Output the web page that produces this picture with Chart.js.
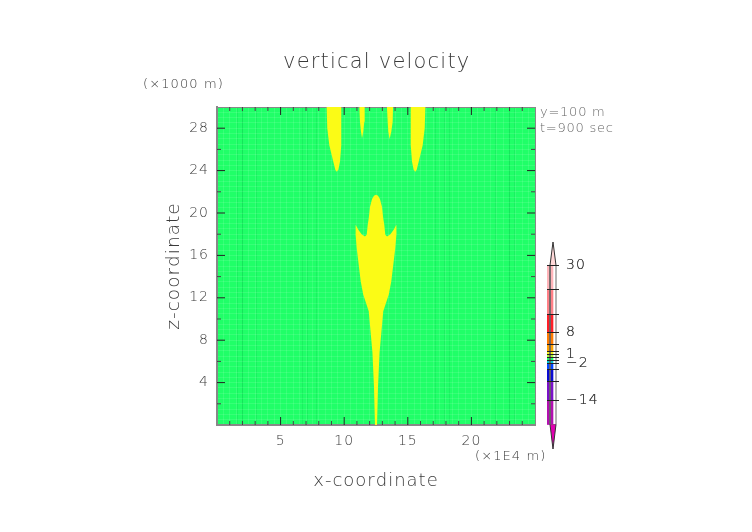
<!DOCTYPE html>
<html lang="en">
<head>
    <meta charset="UTF-8">
    <title>vertical velocity</title>
    <style>
        body { margin: 0; background: #ffffff; }
        #wrap { position: relative; width: 752px; height: 532px; overflow: hidden; font-family: 'DejaVu Sans', sans-serif; font-weight: 200; color: #3a3a3a; }
        #mainChart { position: absolute; left: 0; top: 0; }
        #barChart { position: absolute; left: 530px; top: 240px; }
        .note { position: absolute; white-space: nowrap; line-height: 1; }
        #title { left: 283px; top: 51px; font-size: 21px; letter-spacing: 1.2px; }
        #zUnit { left: 143px; top: 77px; font-size: 13px; letter-spacing: 1.1px; }
        #xUnit { left: 475px; top: 449px; font-size: 13px; letter-spacing: 1.1px; }
        #yNote { left: 540px; top: 105px; font-size: 13px; letter-spacing: 0.75px; color: #666666; }
        #tNote { left: 540px; top: 121px; font-size: 13px; letter-spacing: 0.75px; color: #666666; }
    </style>
</head>
<body>
    <div id="wrap">
        <canvas id="mainChart"></canvas>
        <canvas id="barChart"></canvas>
        <div class="note" id="title">vertical velocity</div>
        <div class="note" id="zUnit">(×1000 m)</div>
        <div class="note" id="xUnit">(×1E4 m)</div>
        <div class="note" id="yNote">y=100 m</div>
        <div class="note" id="tNote">t=900 sec</div>
    </div>
    <script src="https://cdn.jsdelivr.net/npm/chart.js"></script>
    <script>
        // axis ticks
        const xLabels = [5, 10, 15, 20];
        const xMinor = [1, 2, 3, 4, 6, 7, 8, 9, 11, 12, 13, 14, 16, 17, 18, 19, 21, 22, 23, 24];
        const zLabels = [4, 8, 12, 16, 20, 24, 28];
        const zMinor = [2, 6, 10, 14, 18, 22, 26];
        const darkColumns = [1.6, 2.0, 3.1, 6.7, 7.1, 7.8, 17.2, 17.9, 18.3, 21.9, 23, 23.4];

        // yellow contour outlines, x in 1E4 m, z in 1000 m
        const plumeX = [12.42, 12.34, 12.22, 11.93, 11.5, 11.3, 11.11, 10.98, 10.89, 10.9, 11.11, 11.37, 11.63, 11.77, 11.85, 11.93, 12.03, 12.19, 12.34, 12.5, 12.66, 12.81, 12.97, 13.07, 13.15, 13.23, 13.37, 13.63, 13.89, 14.1, 14.11, 14.02, 13.89, 13.7, 13.5, 13.07, 12.78, 12.66, 12.58];
        const plumeZ = [0, 3.65, 6.83, 10.72, 12.29, 13.54, 15.43, 16.72, 18.04, 18.88, 18.41, 18.0, 17.78, 17.94, 18.88, 19.51, 20.6, 21.33, 21.62, 21.71, 21.62, 21.33, 20.6, 19.51, 18.88, 17.94, 17.78, 18.0, 18.41, 18.88, 18.04, 16.72, 15.43, 13.54, 12.29, 10.72, 6.83, 3.65, 0];
        const leftJetX = [8.62, 8.67, 8.83, 9.14, 9.3, 9.41, 9.54, 9.67, 9.77, 9.77, 9.77];
        const leftJetZ = [30, 28, 26.4, 24.85, 24.07, 23.9, 24.07, 24.85, 26.4, 28, 30];
        const midLeftJetX = [11.19, 11.24, 11.32, 11.4, 11.5, 11.58, 11.61];
        const midLeftJetZ = [30, 28.6, 27.67, 27.05, 27.67, 28.6, 30];
        const midRightJetX = [13.36, 13.42, 13.47, 13.57, 13.7, 13.81, 13.84];
        const midRightJetZ = [30, 28.6, 27.67, 26.98, 27.67, 28.6, 30];
        const rightJetX = [15.23, 15.23, 15.23, 15.33, 15.46, 15.59, 15.7, 15.86, 16.17, 16.33, 16.38];
        const rightJetZ = [30, 28, 26.4, 24.85, 24.07, 23.9, 24.07, 24.85, 26.4, 28, 30];
        const coreX = [12.44, 12.44, 12.5, 12.56, 12.56];
        const coreZ = [0, 2.5, 4, 2.5, 0];

        // colour bar bands, top to bottom, value edges in m/s
        const bandEdges = [30, 22, 14, 8, 4, 2, 1, 0, -1, -2, -4, -8, -14, -22];
        const bandColors = ['#ffb4b9', '#ff8087', '#ff1f28', '#ff7a00', '#ffa000', '#f2ef1c', '#a9f52e', '#1fff6a', '#00c8d2', '#0046ff', '#0a0ad2', '#7a10c8', '#b20fb0'];
        const barLabels = [30, 8, 1, -2, -14];
        const upperTipX = [0, 0.5, 1];
        const upperTipV = [30, 37.6, 30];
        const lowerTipX = [0, 0.5, 1];
        const lowerTipV = [-22, -30, -22];
        const frameX = [0, 0, 1, 1, 0];
        const frameV = [30, -22, -22, 30, 30];

        const FIELD = '#20ff68';
        const YELLOW = '#fbfb16';
        const AXIS = '#888888';
        const TEXT = '#3a3a3a';
        const FONT = 'DejaVu Sans';

        function toPoints(xs, ys) {
            return xs.map((x, i) => ({ x: x, y: ys[i] }));
        }

        function shape(xs, ys, color) {
            return {
                type: 'line', data: toPoints(xs, ys), borderColor: color, backgroundColor: color,
                borderWidth: 0, pointRadius: 0, fill: 'shape', tension: 0, showLine: true
            };
        }

        // line-shaped points cut in half by the plot clip give ticks pointing inwards
        function ticks(points, size, rotation, color) {
            return {
                type: 'scatter', data: points, pointStyle: 'line', pointRadius: size, pointRotation: rotation,
                pointBorderColor: color, pointBorderWidth: 1, showLine: false, clip: 0
            };
        }

        const X_MAX = 25, Z_MAX = 30;
        const xTickDatasets = [
            ticks(xLabels.map(v => ({ x: v, y: 0 })), 8, 90, '#222222'),
            ticks(xLabels.map(v => ({ x: v, y: Z_MAX })), 8, 90, '#222222'),
            ticks(xMinor.map(v => ({ x: v, y: 0 })), 4, 90, '#444444'),
            ticks(xMinor.map(v => ({ x: v, y: Z_MAX })), 4, 90, '#444444')
        ];
        const zTickDatasets = [
            ticks(zLabels.map(v => ({ x: 0, y: v })), 8, 0, '#222222'),
            ticks(zLabels.map(v => ({ x: X_MAX, y: v })), 8, 0, '#222222'),
            ticks(zMinor.map(v => ({ x: 0, y: v })), 4, 0, '#444444'),
            ticks(zMinor.map(v => ({ x: X_MAX, y: v })), 4, 0, '#444444')
        ];

        // faint lattice left by the contour cells
        function latticeTicks(max, step, extra) {
            const out = [];
            for (let v = 0; v <= max + 1e-6; v += step) out.push(+v.toFixed(3));
            return out.concat(extra).map(v => ({ value: v }));
        }

        function latticeColor(max) {
            return ctx => {
                const v = ctx.tick.value;
                if (v === 0 || v === max) return AXIS;
                if (darkColumns.includes(v) && max === X_MAX) return 'rgba(0,170,60,0.16)';
                return 'rgba(255,255,255,0.1)';
            };
        }

        const fieldPaint = {
            id: 'fieldPaint',
            beforeDraw(chart) {
                const a = chart.chartArea;
                chart.ctx.fillStyle = FIELD;
                chart.ctx.fillRect(a.left, a.top, a.width, a.height);
            }
        };

        const spacedText = {
            id: 'spacedText',
            beforeDraw(chart) {
                chart.ctx.letterSpacing = '1px';
                chart.ctx.fontKerning = 'none';
            }
        };

        document.getElementById('mainChart').width = 752;
        document.getElementById('mainChart').height = 532;

        new Chart(document.getElementById('mainChart'), {
            type: 'scatter',
            data: {
                datasets: [
                    shape(leftJetX, leftJetZ, YELLOW),
                    shape(midLeftJetX, midLeftJetZ, YELLOW),
                    shape(midRightJetX, midRightJetZ, YELLOW),
                    shape(rightJetX, rightJetZ, YELLOW),
                    shape(plumeX, plumeZ, YELLOW),
                    shape(coreX, coreZ, '#ff7a30')
                ].concat(xTickDatasets, zTickDatasets)
            },
            options: {
                responsive: false,
                animation: false,
                layout: { padding: { top: 107, right: 217, left: 0, bottom: 0 } },
                plugins: { legend: { display: false }, tooltip: { enabled: false } },
                scales: {
                    x: {
                        type: 'linear', min: 0, max: X_MAX,
                        afterBuildTicks: axis => { axis.ticks = latticeTicks(X_MAX, 0.5, darkColumns); },
                        afterFit: axis => { axis.height = 107; },
                        grid: { color: latticeColor(X_MAX), drawTicks: false, z: 0 },
                        border: { color: AXIS, width: 2 },
                        ticks: {
                            autoSkip: false, maxRotation: 0, padding: 8, color: TEXT,
                            font: { family: FONT, size: 14, weight: '200' },
                            callback: v => xLabels.includes(v) ? String(v) : ''
                        },
                        title: {
                            display: true, text: 'x-coordinate', color: TEXT,
                            font: { family: FONT, size: 18, weight: '200' }, padding: { top: 0, bottom: 40 }
                        }
                    },
                    y: {
                        type: 'linear', min: 0, max: Z_MAX,
                        afterBuildTicks: axis => { axis.ticks = latticeTicks(Z_MAX, 0.5, []); },
                        afterFit: axis => { axis.width = 217; },
                        grid: { color: latticeColor(Z_MAX), drawTicks: false, z: 0 },
                        border: { color: AXIS, width: 2 },
                        ticks: {
                            autoSkip: false, padding: 8, color: TEXT,
                            font: { family: FONT, size: 14, weight: '200' },
                            callback: v => zLabels.includes(v) ? String(v) : ''
                        },
                        title: {
                            display: true, text: 'z-coordinate', color: TEXT,
                            font: { family: FONT, size: 18.5, weight: '200' }, padding: { top: 163, bottom: 0 }
                        }
                    }
                }
            },
            plugins: [fieldPaint, spacedText]
        });

        // colour bar
        const barDatasets = bandColors.map((color, i) => ({
            type: 'bar', data: [[bandEdges[i + 1], bandEdges[i]]], backgroundColor: color,
            borderWidth: 0, barPercentage: 1, categoryPercentage: 1, stack: 'bands', order: 2
        }));

        function onTipAxis(dataset, outline) {
            return Object.assign(dataset, { xAxisID: 'tip', borderColor: outline, borderWidth: 1, order: 1 });
        }

        document.getElementById('barChart').width = 70;
        document.getElementById('barChart').height = 211;

        new Chart(document.getElementById('barChart'), {
            type: 'bar',
            data: {
                labels: ['w'],
                datasets: barDatasets.concat([
                    onTipAxis(shape(upperTipX, upperTipV, '#ffd8d8'), '#333333'),
                    onTipAxis(shape(lowerTipX, lowerTipV, '#e000b0'), '#333333'),
                    onTipAxis(Object.assign(shape(frameX, frameV, 'transparent'), { fill: false }), '#666666')
                ])
            },
            options: {
                responsive: false,
                animation: false,
                layout: { autoPadding: false, padding: { left: 17, top: 2, bottom: 2, right: 0 } },
                plugins: { legend: { display: false }, tooltip: { enabled: false } },
                scales: {
                    x: { type: 'category', offset: true, display: false },
                    tip: { type: 'linear', axis: 'x', min: 0, max: 1, display: false },
                    y: {
                        type: 'linear', position: 'right', min: -30, max: 37.6, stacked: false,
                        afterBuildTicks: axis => {
                            axis.ticks = bandEdges.concat(barLabels).map(v => ({ value: v }));
                        },
                        afterFit: axis => { axis.width = 41; axis.paddingTop = 0; axis.paddingBottom = 0; },
                        grid: {
                            drawTicks: false, z: 1,
                            color: ctx => ctx.tick.value <= 30 && ctx.tick.value > -22 ? '#222222' : 'transparent'
                        },
                        border: { display: false },
                        ticks: {
                            autoSkip: false, padding: 7, color: TEXT,
                            font: { family: FONT, size: 14, weight: '200' },
                            callback: v => barLabels.includes(v) ? String(v).replace('-', '−') : ''
                        }
                    }
                }
            },
            plugins: [spacedText]
        });
    </script>
</body>
</html>
